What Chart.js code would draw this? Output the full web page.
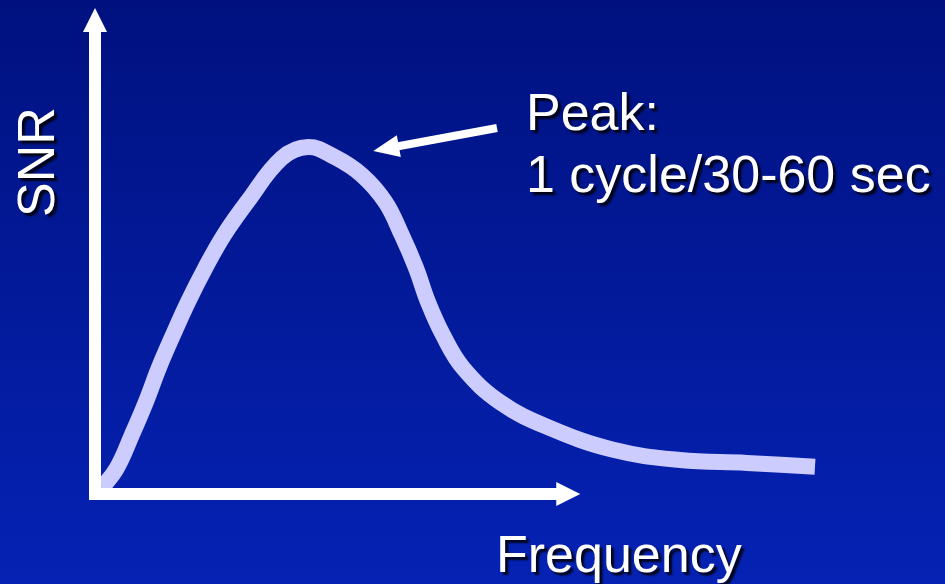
<!DOCTYPE html>
<html>
<head>
<meta charset="utf-8">
<script src="https://cdn.jsdelivr.net/npm/chart.js@4/dist/chart.umd.min.js"></script>
<style>
  html, body { margin: 0; padding: 0; background: #001080; overflow: hidden; }
  #wrap { position: relative; width: 945px; height: 584px; }
</style>
</head>
<body>
<div id="wrap"><canvas id="grafico" width="945" height="584"></canvas></div>
<script>
// --- DADOS ---
const frequencia = [0.9, 2.9, 4.9, 6.8, 8.5, 10.4, 12.4, 14.7, 17.2, 20.3, 24.9, 28.4, 32.0, 35.6, 38.7, 40.9, 42.8, 44.4, 46.4, 49.1, 54.0, 60.3, 69.1, 78.0, 86.9, 96.0];
const snr        = [1.2, 5.3, 12.1, 19.0, 25.9, 32.7, 39.5, 46.5, 53.3, 60.1, 69.1, 71.4, 69.3, 65.6, 60.1, 53.3, 46.5, 39.5, 32.7, 25.9, 18.9, 13.8, 9.1, 7.0, 6.4, 5.6];

const tituloX = 'Frequency';
const tituloY = 'SNR';
const textoPico = ['Peak:', '1 cycle/30-60 sec'];

// fim dos eixos e da seta do pico (em unidades dos dados)
const fimEixoX = 64.7;
const fimEixoY = 100;
const setaPicoDe = [53.6, 75.3];
const setaPicoAte = [37.1, 70.6];

const pontos = frequencia.map((f, i) => ({ x: f, y: snr[i] }));

// --- PLUGIN: fundo, eixos com setas, textos ---
const fundoPlugin = {
  id: 'fundo',
  beforeDraw(chart) {
    const ctx = chart.ctx;
    const g = ctx.createLinearGradient(0, 0, 0, chart.height);
    g.addColorStop(0, '#00117f');
    g.addColorStop(1, '#0522b4');
    ctx.save();
    ctx.fillStyle = g;
    ctx.fillRect(0, 0, chart.width, chart.height);
    ctx.restore();
  },
  afterDatasetsDraw(chart) {
    const ctx = chart.ctx;
    const sx = chart.scales.x, sy = chart.scales.y;
    const x0 = sx.getPixelForValue(0), y0 = sy.getPixelForValue(0);
    const xFim = sx.getPixelForValue(fimEixoX), yFim = sy.getPixelForValue(fimEixoY);
    ctx.save();
    ctx.fillStyle = '#ffffff';
    // eixo Y
    ctx.fillRect(x0 - 6, yFim + 22, 12, y0 - yFim - 16);
    ctx.beginPath();
    ctx.moveTo(x0, yFim);
    ctx.lineTo(x0 + 12, yFim + 24);
    ctx.lineTo(x0 - 12, yFim + 24);
    ctx.closePath();
    ctx.fill();
    // eixo X
    ctx.fillRect(x0 - 6, y0 - 6, xFim - x0 - 16, 12);
    ctx.beginPath();
    ctx.moveTo(xFim, y0);
    ctx.lineTo(xFim - 24, y0 - 12);
    ctx.lineTo(xFim - 24, y0 + 12);
    ctx.closePath();
    ctx.fill();

    // seta do pico
    const ax = sx.getPixelForValue(setaPicoDe[0]), ay = sy.getPixelForValue(setaPicoDe[1]);
    const bx = sx.getPixelForValue(setaPicoAte[0]), by = sy.getPixelForValue(setaPicoAte[1]);
    const ang = Math.atan2(by - ay, bx - ax);
    const cabeca = 26;
    const hx = bx - cabeca * Math.cos(ang), hy = by - cabeca * Math.sin(ang);
    ctx.strokeStyle = '#ffffff';
    ctx.lineWidth = 8;
    ctx.beginPath();
    ctx.moveTo(ax, ay);
    ctx.lineTo(hx + 2 * Math.cos(ang), hy + 2 * Math.sin(ang));
    ctx.stroke();
    ctx.beginPath();
    ctx.moveTo(bx, by);
    ctx.lineTo(hx + 11 * Math.sin(ang), hy - 11 * Math.cos(ang));
    ctx.lineTo(hx - 11 * Math.sin(ang), hy + 11 * Math.cos(ang));
    ctx.closePath();
    ctx.fill();

    // textos
    ctx.font = '52px "Liberation Sans", Arial, sans-serif';
    ctx.shadowColor = 'rgba(0,0,0,0.85)';
    ctx.shadowOffsetX = 3;
    ctx.shadowOffsetY = 3;
    ctx.shadowBlur = 2;
    ctx.textBaseline = 'alphabetic';
    ctx.textAlign = 'left';
    ctx.fillText(textoPico[0], 526, 130);
    ctx.fillText(textoPico[1], 526, 192);
    ctx.fillText(tituloX, 496, 572);

    ctx.translate(54, 162);
    ctx.rotate(-Math.PI / 2);
    ctx.textAlign = 'center';
    ctx.fillText(tituloY, 0, 0);
    ctx.restore();
  }
};

new Chart(document.getElementById('grafico'), {
  type: 'line',
  data: {
    datasets: [{
      data: pontos,
      borderColor: '#ccccff',
      borderWidth: 16,
      borderCapStyle: 'butt',
      borderJoinStyle: 'round',
      tension: 0.4,
      pointRadius: 0,
      fill: false,
      clip: false
    }]
  },
  options: {
    responsive: false,
    animation: false,
    devicePixelRatio: 1,
    layout: { padding: { left: 95, right: 100, top: 8, bottom: 90 } },
    plugins: { legend: { display: false }, tooltip: { enabled: false } },
    scales: {
      x: { type: 'linear', min: 0, max: 100, display: false },
      y: { type: 'linear', min: 0, max: 100, display: false }
    }
  },
  plugins: [fundoPlugin]
});
</script>
</body>
</html>
